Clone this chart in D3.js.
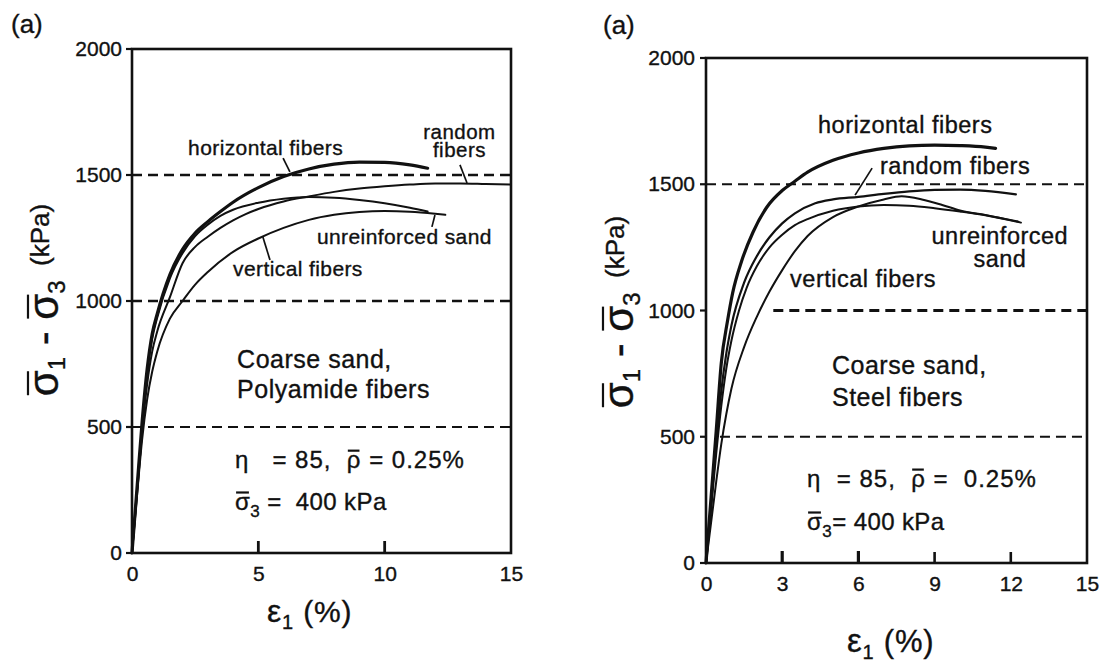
<!DOCTYPE html>
<html>
<head>
<meta charset="utf-8">
<script src="https://cdn.jsdelivr.net/npm/d3@7"></script>
<style>
  html, body { margin: 0; padding: 0; background: #fff; }
  svg text { font-family: "Liberation Sans", Arial, Helvetica, sans-serif; fill: #111; stroke: #111; stroke-width: 0.35px; }
</style>
</head>
<body>
<svg id="chart" width="1106" height="662"></svg>
<script>
// ---- data: axial strain (%) vs deviator stress (kPa) ----
const yTicks = [0, 500, 1000, 1500, 2000];
const gridLevels = [500, 1000, 1500];
const polyTicksX = [0, 5, 10, 15];
const steelTicksX = [0, 3, 6, 9, 12, 15];

// Coarse sand, polyamide fibers
const polyHorizontal = [[0,0],[0.2,260],[0.4,520],[0.6,730],[0.8,870],[1,950],[1.5,1105],[2,1205],[2.5,1270],[3,1315],[3.5,1355],[4,1392],[5,1450],[6,1494],[7,1524],[8,1543],[9,1551],[10,1550],[11,1540],[11.7,1527]];
const polyRandom = [[0,0],[0.2,240],[0.4,480],[0.6,670],[0.8,800],[1,880],[1.5,1015],[2,1150],[2.5,1215],[3,1255],[3.5,1290],[4,1320],[4.5,1345],[5,1365],[6,1395],[7,1415],[8,1433],[9,1446],[10,1455],[11,1462],[12,1466],[13,1466],[14,1464],[15,1462]];
const polyUnreinforced = [[0,0],[0.2,255],[0.4,505],[0.6,710],[0.8,850],[1,935],[1.5,1090],[2,1190],[2.5,1258],[3,1303],[3.5,1338],[4,1362],[5,1390],[6,1406],[7,1413],[8,1410],[9,1401],[10,1388],[11,1370],[11.7,1355]];
const polyVertical = [[0,0],[0.2,230],[0.4,450],[0.6,610],[0.8,720],[1,800],[1.5,930],[2,1000],[2.5,1065],[3,1115],[4,1195],[5,1248],[6,1290],[7,1322],[8,1342],[9,1353],[10,1357],[11,1354],[12,1346],[12.4,1342]];

// Coarse sand, steel fibers
const steelHorizontal = [[0,0],[0.2,260],[0.4,520],[0.6,790],[0.85,960],[1.05,1070],[1.4,1195],[1.85,1310],[2.4,1410],[3,1475],[3.5,1512],[4,1548],[5,1595],[6,1624],[7,1642],[8,1652],[9,1655],[10,1653],[11,1647],[11.4,1642]];
const steelRandom = [[0,0],[0.2,230],[0.4,470],[0.6,680],[0.8,830],[1,940],[1.5,1110],[2,1215],[2.5,1290],[3,1345],[3.5,1385],[4.3,1425],[5,1440],[6,1450],[7,1462],[8,1472],[9,1478],[10,1479],[11,1474],[12.2,1460]];
const steelUnreinforced = [[0,0],[0.2,215],[0.4,430],[0.6,620],[0.8,770],[1,880],[1.3,1000],[1.6,1090],[2,1175],[2.5,1250],[3,1300],[3.5,1338],[4,1362],[5,1395],[6,1412],[7,1418],[8,1415],[9,1405],[10,1392],[11,1377],[12.4,1348]];
const steelVertical = [[0,0],[0.2,160],[0.4,320],[0.6,470],[0.8,590],[1,690],[1.5,855],[2,975],[2.5,1075],[3,1160],[3.5,1235],[4,1295],[5,1370],[6,1412],[7,1440],[7.7,1452],[8.5,1440],[9.3,1418],[10,1396],[11,1378],[12.3,1352]];

const INK = "#111";
const svg = d3.select("#chart");

// Text made of styled runs; runs flagged "bar" get an overline drawn above them.
// A run with "nl" starts a new line at the text's x position.
function richText(parent, x, y, size, parts, anchor = "start", ls = 0) {
  const t = parent.append("text")
    .attr("x", x).attr("y", y)
    .attr("font-size", size)
    .attr("text-anchor", anchor)
    .attr("letter-spacing", ls)
    .attr("xml:space", "preserve")
    .style("white-space", "pre");
  const bars = [];
  parts.forEach(p => {
    const s = t.append("tspan").text(p.t);
    if (p.size) s.attr("font-size", p.size);
    if (p.dy) s.attr("dy", p.dy);
    if (p.nl !== undefined) s.attr("x", x).attr("dy", p.nl);
    if (p.bar) bars.push(s);
  });
  bars.forEach(s => {
    const b = s.node().getBBox();
    const yb = b.y + b.height * 0.17;
    parent.append("line")
      .attr("x1", b.x + 1).attr("x2", b.x + b.width - 1 - ls)
      .attr("y1", yb).attr("y2", yb)
      .attr("stroke", INK).attr("stroke-width", 2.2);
  });
  return t;
}

function pointer(g, x, y, a, b) {
  g.append("line")
    .attr("x1", x(a[0])).attr("y1", y(a[1]))
    .attr("x2", x(b[0])).attr("y2", y(b[1]))
    .attr("stroke", INK).attr("stroke-width", 1.7);
}

function drawPanel(cfg) {
  const x = d3.scaleLinear().domain([0, 15]).range([cfg.left, cfg.right]);
  const y = d3.scaleLinear().domain([0, 2000]).range([cfg.bottom, cfg.top]);
  const g = svg.append("g");

  // dashed reference levels
  gridLevels.forEach((v, i) => {
    g.append("line")
      .attr("x1", x(cfg.gridFrom[i])).attr("x2", x(15))
      .attr("y1", y(v)).attr("y2", y(v))
      .attr("stroke", INK).attr("stroke-width", cfg.gridW[i])
      .attr("stroke-dasharray", "10,6");
  });

  // stress-strain curves
  const line = d3.line().x(d => x(d[0])).y(d => y(d[1])).curve(d3.curveMonotoneX);
  cfg.curves.forEach(c => {
    g.append("path")
      .attr("d", line(c.data))
      .attr("fill", "none")
      .attr("stroke", INK)
      .attr("stroke-width", c.w)
      .attr("stroke-linecap", "round")
      .attr("stroke-linejoin", "round");
  });

  // frame
  g.append("rect")
    .attr("x", cfg.left).attr("y", cfg.top)
    .attr("width", cfg.right - cfg.left).attr("height", cfg.bottom - cfg.top)
    .attr("fill", "none").attr("stroke", INK).attr("stroke-width", 2.6);

  // x axis labels
  const xa = g.append("g")
    .attr("transform", `translate(0,${cfg.bottom})`)
    .call(d3.axisBottom(x).tickValues(cfg.xTicks).tickSize(0)
      .tickPadding(13).tickFormat(d3.format("d")));
  xa.attr("font-family", null).attr("font-size", null);
  xa.select(".domain").remove();
  xa.selectAll(".tick line").remove();
  xa.selectAll(".tick text").attr("font-size", 21).attr("fill", INK);

  // inward x tick marks
  g.selectAll(null)
    .data(cfg.xTicks.filter(v => cfg.tickLen(v) > 0))
    .join("line")
    .attr("x1", d => x(d)).attr("x2", d => x(d))
    .attr("y1", cfg.bottom).attr("y2", d => cfg.bottom - cfg.tickLen(d))
    .attr("stroke", INK)
    .attr("stroke-width", d => cfg.tickW(d));

  // y axis labels
  const ya = g.append("g")
    .attr("transform", `translate(${cfg.left},0)`)
    .call(d3.axisLeft(y).tickValues(yTicks).tickSize(0)
      .tickPadding(cfg.yPad + 5).tickFormat(d3.format("d")));
  ya.attr("font-family", null).attr("font-size", null);
  ya.select(".domain").remove();
  ya.selectAll(".tick line").remove();
  ya.selectAll(".tick text").attr("font-size", 21).attr("fill", INK);

  // short outward y tick marks
  g.selectAll(null)
    .data(yTicks)
    .join("line")
    .attr("x1", cfg.left - 6).attr("x2", cfg.left)
    .attr("y1", d => y(d)).attr("y2", d => y(d))
    .attr("stroke", INK).attr("stroke-width", 2.2);

  // panel tag
  richText(svg, cfg.tag[0], cfg.tag[1], 26, [{ t: "(a)" }]);

  // x title
  richText(svg, cfg.xTitle[0], cfg.xTitle[1], cfg.xTitleSize, [
    { t: "ε" }, { t: "1", size: 20, dy: 7 }, { t: " (%)", size: cfg.xTitleSize - 2, dy: -7 }
  ], "start", 0.8);

  // y title, rotated
  const yt = svg.append("g").attr("transform", `translate(${cfg.yTitle[0]},${cfg.yTitle[1]}) rotate(-90)`);
  richText(yt, 0, 0, 42, [
    { t: "σ", bar: true }, { t: "1", size: 24, dy: 7 },
    { t: " - ", dy: -7 },
    { t: "σ", bar: true }, { t: "3", size: 24, dy: 7 },
    { t: "  (kPa)", size: 26, dy: -16 }
  ], "middle");

  cfg.notes(g, x, y);
}

drawPanel({
  left: 132, right: 511, top: 49, bottom: 553,
  xTicks: polyTicksX,
  tickW: d => 2.8,
  tickLen: d => (d === 0 || d === 15) ? 0 : 12,
  yPad: 5,
  gridFrom: [0, 0, 0],
  gridW: [1.8, 2.4, 2.4],
  curves: [
    { data: polyVertical, w: 2 },
    { data: polyUnreinforced, w: 2 },
    { data: polyRandom, w: 2 },
    { data: polyHorizontal, w: 3.2 }
  ],
  tag: [11, 33],
  xTitle: [267, 622],
  xTitleSize: 32,
  yTitle: [58, 300],
  notes: (g, x, y) => {
    richText(g, x(2.22), y(1579), 21, [{ t: "horizontal fibers" }], "start", 0.4);
    pointer(g, x, y, [5.98, 1567], [6.25, 1512]);
    richText(g, x(12.96), y(1642), 20.5, [
      { t: "random" }, { t: "fibers", nl: 18 }
    ], "middle", 0.5);
    pointer(g, x, y, [12.98, 1540], [13.26, 1468]);
    richText(g, x(7.32), y(1226), 21, [{ t: "unreinforced sand" }], "start", 0.4);
    pointer(g, x, y, [11.99, 1341], [11.87, 1294]);
    richText(g, x(4.0), y(1099), 21, [{ t: "vertical fibers" }], "start", 0.4);
    pointer(g, x, y, [5.18, 1254], [5.46, 1163]);
    richText(g, x(4.16), y(734), 25, [
      { t: "Coarse sand," }, { t: "Polyamide fibers", nl: 30 }
    ], "start", 0.5);
    richText(g, x(4.08), y(337), 24, [
      { t: "η   = 85,  " }, { t: "ρ", bar: true }, { t: " = 0.25%" }
    ], "start", 1);
    richText(g, x(4.08), y(171), 24, [
      { t: "σ", bar: true }, { t: "3", size: 17, dy: 7 }, { t: " =  400 kPa", dy: -7 }
    ], "start", 0.4);
  }
});

drawPanel({
  left: 706, right: 1087, top: 58, bottom: 563,
  xTicks: steelTicksX,
  tickW: d => (d === 3 || d === 6) ? 3.2 : 2.6,
  tickLen: d => (d === 0 || d === 15) ? 0 : ((d === 3 || d === 6) ? 12 : 11),
  yPad: 6,
  gridFrom: [0.55, 2.65, 0],
  gridW: [2, 2.8, 2],
  curves: [
    { data: steelVertical, w: 2 },
    { data: steelUnreinforced, w: 2 },
    { data: steelRandom, w: 2.2 },
    { data: steelHorizontal, w: 3.2 }
  ],
  tag: [603, 34],
  xTitle: [847, 652],
  xTitleSize: 33,
  yTitle: [633, 312],
  notes: (g, x, y) => {
    richText(g, x(4.41), y(1703), 23.5, [{ t: "horizontal fibers" }], "start", 0.5);
    richText(g, x(6.85), y(1541), 23.5, [{ t: "random fibers" }], "start", 0.5);
    pointer(g, x, y, [6.54, 1564], [5.87, 1457]);
    richText(g, x(11.57), y(1263), 23.5, [
      { t: "unreinforced" }, { t: "sand", nl: 23 }
    ], "middle", 0.5);
    richText(g, x(3.31), y(1093), 23.5, [{ t: "vertical fibers" }], "start", 0.5);
    richText(g, x(4.96), y(748), 25, [
      { t: "Coarse sand," }, { t: "Steel fibers", nl: 32 }
    ], "start", 0.5);
    richText(g, x(3.98), y(301), 24, [
      { t: "η  = 85,  " }, { t: "ρ", bar: true }, { t: " =  0.25%" }
    ], "start", 1);
    richText(g, x(3.98), y(131), 24, [
      { t: "σ", bar: true }, { t: "3", size: 17, dy: 7 }, { t: "= 400 kPa", dy: -7 }
    ], "start", 0.4);
  }
});
</script>
</body>
</html>
